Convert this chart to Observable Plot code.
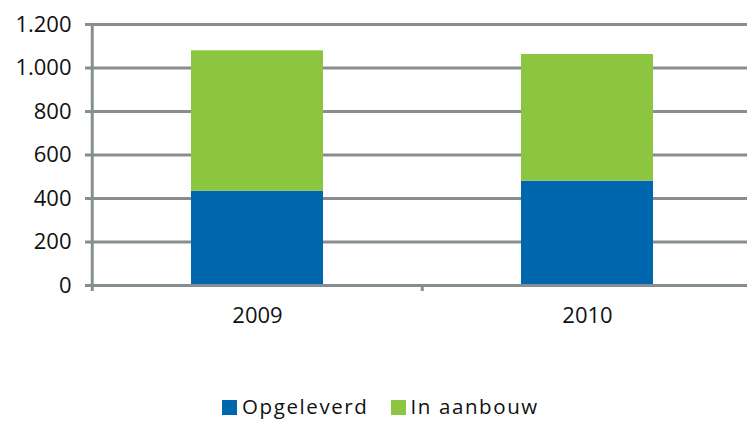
<!DOCTYPE html>
<html><head><meta charset="utf-8">
<script src="https://cdn.jsdelivr.net/npm/d3@7"></script>
<script src="https://cdn.jsdelivr.net/npm/@observablehq/plot@0.6"></script>
<style>
body{margin:0;background:#fff;font-family:"Open Sans",sans-serif;}
#wrap{position:relative;width:747px;height:421px;overflow:hidden;background:#fff;}
#legend{position:absolute;left:222px;top:394px;display:flex;align-items:center;font-size:20.5px;letter-spacing:1.6px;color:#111;line-height:24px;}
#legend .item{display:flex;align-items:center;margin-right:22px;}
#legend .sw{width:15px;height:15px;display:inline-block;margin-right:5px;margin-top:3px;}
</style></head><body><div id="wrap"></div>
<script>
const years = ["2009", "2010"];
const seriesNames = ["Opgeleverd", "In aanbouw"];
const opgeleverd = [434, 480];
const inAanbouw = [645, 582];
const yTicks = [0, 200, 400, 600, 800, 1000, 1200];
const yTickLabels = ["0", "200", "400", "600", "800", "1.000", "1.200"];
const colors = ["#0066ad", "#8cc540"];

const table = [];
years.forEach((y, i) => {
  table.push({year: y, series: seriesNames[0], value: opgeleverd[i]});
  table.push({year: y, series: seriesNames[1], value: inAanbouw[i]});
});

const grid = "#878e91";
const half = -165.25;

const chart = Plot.plot({
  width: 747, height: 345,
  marginTop: 24, marginBottom: 60, marginLeft: 91, marginRight: 0,
  style: {fontFamily: "Open Sans", fontSize: "21px", color: "#111", background: "white", overflow: "visible"},
  x: {domain: years, range: [91, 752], paddingInner: 0.6, paddingOuter: 0.3, axis: null, label: null},
  y: {domain: [0, 1200], axis: null, label: null},
  color: {domain: seriesNames, range: colors},
  marks: [
    Plot.ruleY(yTicks.filter(d => d > 0), {stroke: grid, strokeWidth: 3, insetLeft: -6}),
    Plot.barY(table, {x: "year", y: "value", fill: "series", order: seriesNames}),
    Plot.ruleY([0], {stroke: grid, strokeWidth: 3, insetLeft: -6}),
    Plot.ruleX([years[0]], {x: d => d, dx: half, y1: 1200, y2: 0, insetBottom: -6, stroke: grid, strokeWidth: 3}),
    Plot.ruleX([years[1]], {x: d => d, dx: half, y1: 0, y2: 0, insetBottom: -6, stroke: grid, strokeWidth: 3}),
    Plot.axisY({ticks: yTicks, tickFormat: d => yTickLabels[yTicks.indexOf(d)], tickSize: 0, tickPadding: 20, fontSize: 22, fill: "#111", label: null}),
    Plot.axisX({tickSize: 0, tickPadding: 22, fontSize: 22, fill: "#111", label: null})
  ]
});

const wrap = document.getElementById("wrap");
wrap.appendChild(chart);
const legend = document.createElement("div");
legend.id = "legend";
seriesNames.forEach((s, i) => {
  const it = document.createElement("span");
  it.className = "item";
  const sw = document.createElement("span");
  sw.className = "sw";
  sw.style.background = colors[i];
  it.appendChild(sw);
  it.appendChild(document.createTextNode(s));
  legend.appendChild(it);
});
wrap.appendChild(legend);
</script>
</body></html>
